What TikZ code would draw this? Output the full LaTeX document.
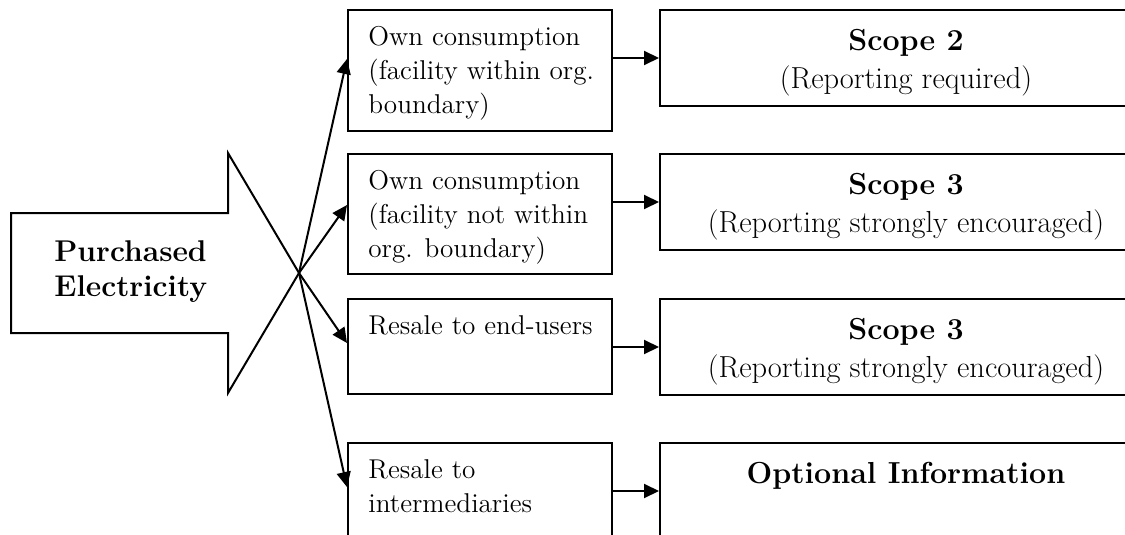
\documentclass[tikz,border=0pt]{standalone}
\usetikzlibrary{arrows.meta,positioning}

\tikzset{
  box/.style={draw, line width=1pt, inner sep=0pt, anchor=north west},
  lbox/.style={box, minimum width=132pt},
  rbox/.style={box, minimum width=246pt, minimum height=48pt},
  ltext/.style={inner sep=0pt, align=left, font=\fontsize{13.6}{17}\selectfont},
  rtext/.style={inner sep=0pt, align=center, font=\fontsize{15.2}{19}\selectfont},
  arr/.style={-{Triangle[length=7.5pt,width=7pt]}, line width=1pt},
}

\begin{document}
\begin{tikzpicture}[x=0.5pt, y=-0.5pt]

\clip (0,0) rectangle (1125,535);
\useasboundingbox (0,0) rectangle (1125,535);

% the big arrow
\coordinate (tip) at (299,273);
\draw [line width=1pt, line join=miter] (11,213) -- (228,213) -- (228,153) -- (tip)
  -- (228,393) -- (228,333) -- (11,333) -- cycle;
\node [anchor=west, align=left, inner sep=0pt, font=\fontsize{15}{17.5}\selectfont\bfseries]
  (purch) at (54,272) {Purchased\\Electricity};

% left boxes
\node [lbox, minimum height=60.5pt] (own1) at (347,9) {};
\node [lbox, minimum height=60pt] (own2) at (347,153) {};
\node [lbox, minimum height=47.5pt] (resale1) at (347,298) {};
\node [lbox, minimum height=60pt] (resale2) at (347,442) {};

\node [ltext, below right=8.5pt and 10.5pt of own1.north west] (t1)
  {Own consumption\\(facility within org.\\boundary)};
\node [ltext, below right=8.5pt and 10.5pt of own2.north west] (t2)
  {Own consumption\\(facility not within\\org. boundary)};
\node [ltext, below right=8.5pt and 10.5pt of resale1.north west] (t3)
  {Resale to end-users};
\node [ltext, below right=8.5pt and 10.5pt of resale2.north west] (t4)
  {Resale to\\intermediaries};

% right boxes
\node [rbox] (scA) at (659,9) {};
\node [rbox] (scB) at (659,153) {};
\node [rbox] (scC) at (659,298) {};
\node [rbox] (scD) at (659,442) {};

\node [rtext, below=10pt of scA.north] (tA) {\textbf{Scope 2}\\(Reporting required)};
\node [rtext, below=10pt of scB.north] (tB) {\textbf{Scope 3}\\(Reporting strongly encouraged)};
\node [rtext, below=10pt of scC.north] (tC) {\textbf{Scope 3}\\(Reporting strongly encouraged)};
\node [rtext, below=10pt of scD.north] (tD) {\textbf{Optional Information}};

% arrows out of the tip
\coordinate (e1) at (347,59);
\coordinate (e2) at (347,205);
\coordinate (e3) at (347,343);
\coordinate (e4) at (347,487);
\foreach \e in {e1,e2,e3,e4}
  \draw [arr] (tip) -- (\e);

% arrows to the scopes
\draw [arr] (scA.west -| own1.east) -- (scA.west);
\draw [arr] (scB.west -| own2.east) -- (scB.west);
\draw [arr] (scC.west -| resale1.east) -- (scC.west);
\draw [arr] (scD.west -| resale2.east) -- (scD.west);

\end{tikzpicture}
\end{document}
